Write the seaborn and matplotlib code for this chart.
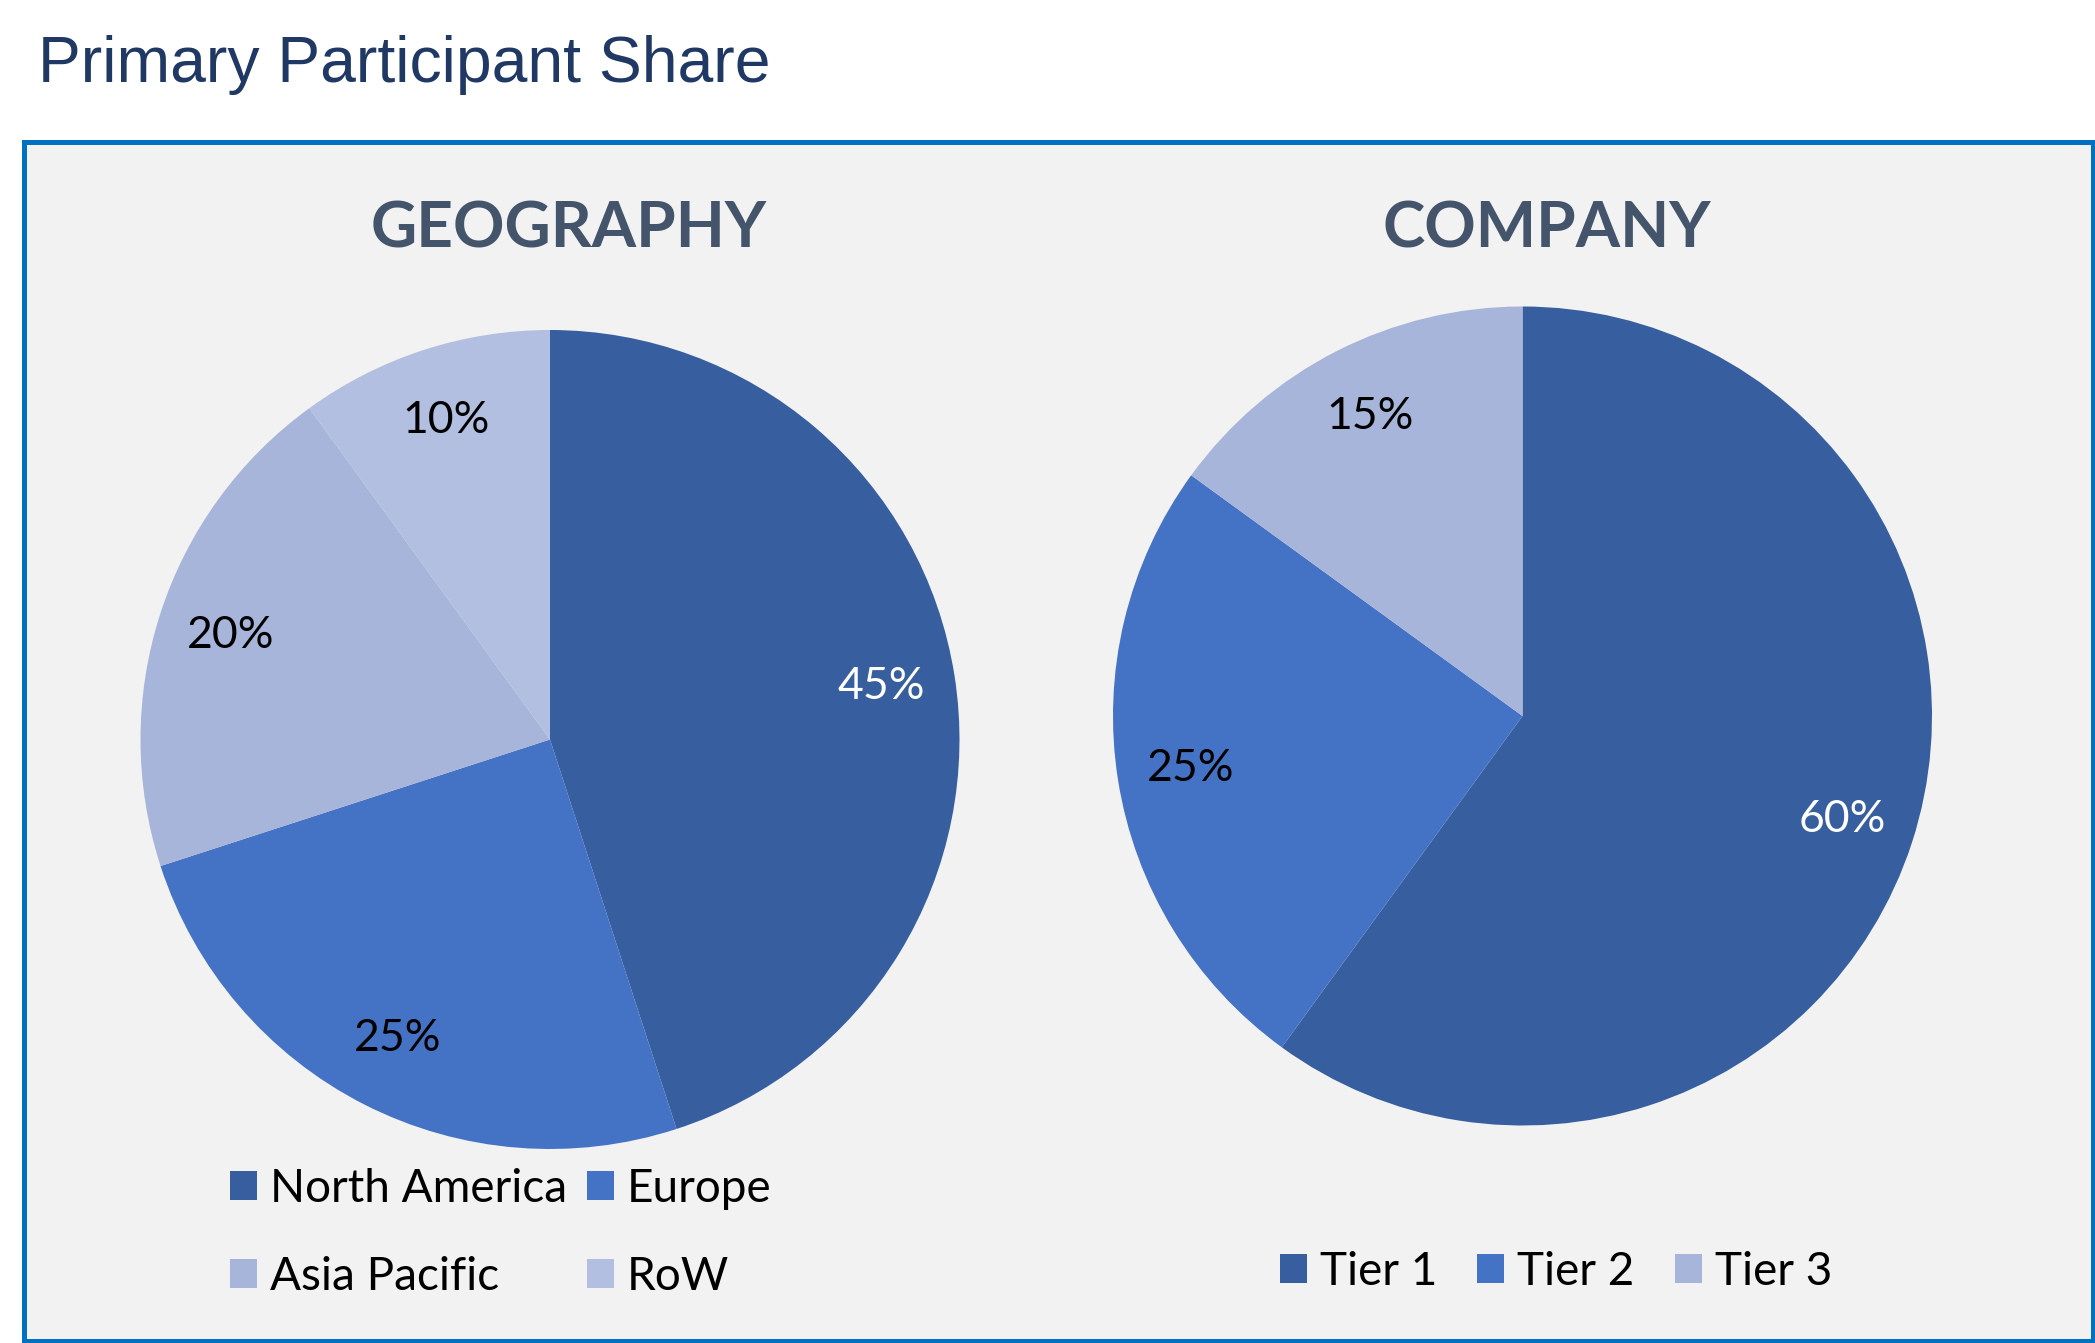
import matplotlib
matplotlib.use("Agg")
import matplotlib.pyplot as plt
import seaborn as sns
from matplotlib.patches import Rectangle

# ---------------- data ----------------
title_text = "Primary Participant Share"

geo_title = "GEOGRAPHY"
geo_labels = ["North America", "Europe", "Asia Pacific", "RoW"]
geo_values = [45, 25, 20, 10]
geo_colors = ["#375E9F", "#4472C4", "#A7B5DA", "#B3BFE0"]

comp_title = "COMPANY"
comp_labels = ["Tier 1", "Tier 2", "Tier 3"]
comp_values = [60, 25, 15]
comp_colors = ["#375E9F", "#4472C4", "#A7B5DA"]

# ---------------- style ----------------
sns.set_theme(style="white")
plt.rcParams['font.family'] = ['Lato', 'DejaVu Sans']

W, H = 2095, 1343
DPI = 100
fig = plt.figure(figsize=(W / DPI, H / DPI), dpi=DPI)
fig.patch.set_facecolor("white")


def fx(x):
    return x / W


def fy(y):
    return 1 - y / H


# panel with blue border
panel = Rectangle((fx(23.5), fy(1340.5)), fx(2092.5) - fx(23.5), fy(141.5) - fy(1340.5),
                  transform=fig.transFigure, facecolor="#F2F2F2", edgecolor="#0070C0",
                  linewidth=5 * 72 / DPI, zorder=0)
fig.add_artist(panel)

# main title
fig.text(fx(38), fy(82), title_text, fontsize=46.3, color="#1F3864",
         family=["Liberation Sans", "DejaVu Sans"], ha="left", va="baseline")


def pie_axes(cx, cy, r):
    ax = fig.add_axes([fx(cx - r), fy(cy + r), 2 * r / W, 2 * r / H])
    return ax


def draw_pie(ax, values, colors):
    wedges, texts, autotexts = ax.pie(
        values, colors=colors, startangle=90, counterclock=False, radius=1,
        autopct=lambda p: f"{p:.0f}%", pctdistance=0.82,
        wedgeprops=dict(linewidth=0),
        textprops=dict(fontsize=32, color="black"))
    autotexts[0].set_color("white")
    ax.set_xlim(-1, 1)
    ax.set_ylim(-1, 1)
    ax.set_aspect("equal")
    ax.axis("off")
    return wedges


ax1 = pie_axes(550, 739.5, 409.5)
w1 = draw_pie(ax1, geo_values, geo_colors)
ax2 = pie_axes(1522.5, 716, 409.5)
w2 = draw_pie(ax2, comp_values, comp_colors)

# section headers
fig.text(fx(569), fy(247), geo_title, fontsize=46, fontweight="bold", color="#44546A",
         ha="center", va="baseline")
fig.text(fx(1547), fy(247), comp_title, fontsize=46, fontweight="bold", color="#44546A",
         ha="center", va="baseline")

fs_leg = 33
em = fs_leg * DPI / 72.0

order = [0, 2, 1, 3]
fig.legend([w1[i] for i in order], [geo_labels[i] for i in order], ncol=2,
           loc="upper left", bbox_to_anchor=(fx(230), fy(1168)),
           bbox_transform=fig.transFigure, frameon=False, fontsize=fs_leg,
           labelcolor="black",
           handlelength=27 / em, handleheight=27 / em, handletextpad=13 / em,
           columnspacing=20 / em, labelspacing=1.0, borderpad=0, borderaxespad=0)

fig.legend(w2, comp_labels, ncol=3,
           loc="center left", bbox_to_anchor=(fx(1280), fy(1272)),
           bbox_transform=fig.transFigure, frameon=False, fontsize=fs_leg,
           labelcolor="black",
           handlelength=27 / em, handleheight=27 / em, handletextpad=13 / em,
           columnspacing=40 / em, borderpad=0, borderaxespad=0)

fig.savefig("out.png", dpi=DPI, facecolor=fig.get_facecolor())
